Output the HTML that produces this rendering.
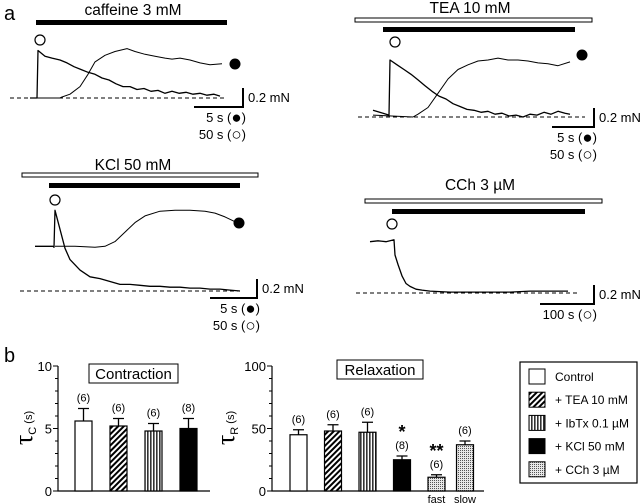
<!DOCTYPE html>
<html><head><meta charset="utf-8"><style>
body{margin:0;background:#fff}
svg{display:block;font-family:"Liberation Sans",sans-serif}
</style></head><body>
<svg id="fig" width="640" height="504" viewBox="0 0 640 504">
<defs>
<pattern id="diag" width="4" height="4" patternUnits="userSpaceOnUse" patternTransform="rotate(45)"><rect width="4" height="4" fill="#fff"/><rect width="2" height="4" fill="#000"/></pattern>
<pattern id="vert" width="3" height="3" patternUnits="userSpaceOnUse"><rect width="3" height="3" fill="#fff"/><rect width="1.6" height="3" fill="#333"/></pattern>
<pattern id="dots" width="2" height="2" patternUnits="userSpaceOnUse"><rect width="2" height="2" fill="#e8e8e8"/><rect width="1" height="1" fill="#555"/></pattern>
</defs>
<g id="panelA"></g>
<g id="panelB"></g>
</svg>
<script>
// ---- panel a trace data (time in s-scaled units, force in mN) ----
const cafSlowT=[0,7,8,15,22,30,37,44,51,58,65,72,79,86,93,100,107,114,121,128,135,142,149,156,163,170,177,184,190];
const cafSlowF=[0,0,0.5,0.44,0.42,0.4,0.37,0.33,0.3,0.27,0.25,0.21,0.19,0.15,0.12,0.12,0.09,0.1,0.07,0.08,0.05,0.07,0.05,0.06,0.04,0.05,0.03,0.04,0.02];
const cafFastT=[0,30,32,40,50,58,65,75,85,97,105,115,125,135,142,150,160,170,180,192];
const cafFastF=[0,0,0.01,0.04,0.12,0.25,0.38,0.45,0.49,0.52,0.49,0.46,0.44,0.42,0.41,0.42,0.4,0.37,0.35,0.36];
const teaSlowT=[0,10,16,17,24,31,38,45,52,59,66,73,80,87,94,101,108,115,122,129,136,143,150,157,164,171,178,185,192,197];
const teaSlowF=[0.07,0.04,0.02,0.6,0.55,0.5,0.45,0.39,0.33,0.27,0.22,0.19,0.14,0.11,0.08,0.07,0.05,0.06,0.03,0.04,0.01,0.02,0.0,0.03,0.02,0.05,0.03,0.06,0.04,0.03];
const teaFastT=[0,40,45,55,65,75,85,95,105,115,125,135,145,155,165,175,185,197];
const teaFastF=[0.02,0.0,0.03,0.1,0.25,0.4,0.5,0.55,0.59,0.6,0.62,0.6,0.6,0.59,0.57,0.56,0.54,0.58];
const kclSlowT=[0,18,19,20,25,30,35,45,55,65,75,85,95,105,115,125,135,145,155,165,175,185,195,205];
const kclSlowF=[0.47,0.47,0.46,0.85,0.65,0.45,0.33,0.22,0.15,0.13,0.1,0.07,0.07,0.06,0.05,0.05,0.04,0.04,0.03,0.03,0.02,0.02,0.01,0.0];
const kclFastT=[20,40,60,70,80,90,100,110,125,140,155,170,180,190,200,205];
const kclFastF=[0.47,0.47,0.46,0.47,0.52,0.62,0.72,0.79,0.84,0.85,0.85,0.84,0.82,0.78,0.73,0.72];
const cchT=[0,8,16,24,25,28,32,36,40,46,52,60,80,100,120,140,160,170,185,198];
const cchF=[0.54,0.55,0.54,0.56,0.4,0.3,0.18,0.1,0.07,0.04,0.03,0.02,0.01,0.01,0.01,0.01,0.02,0.02,0.02,0.02];
// ---- panel b bar data ----
const conCats=["Control","TEA","IbTx","KCl"];
const conVals=[5.6,5.2,4.8,5.0];
const conErr=[1.0,0.6,0.6,0.8];
const conN=["(6)","(6)","(6)","(8)"];
const relCats=["Control","TEA","IbTx","KCl","fast","slow"];
const relVals=[45,48,47,25,11,37];
const relErr=[4,5,8,3,2,3];
const relN=["(6)","(6)","(6)","(8)","(6)","(6)"];
const relStar=["","","","*","**",""];
const conTicks=[0,5,10];
const relTicks=[0,50,100];
const legendLabels=["Control","+ TEA 10 mM","+ IbTx 0.1 \u00b5M","+ KCl 50 mM","+ CCh 3 \u00b5M"];

const NS="http://www.w3.org/2000/svg";
function mk(parent,tag,attrs,text){const e=document.createElementNS(NS,tag);for(const k in attrs)e.setAttribute(k,attrs[k]);if(text!==undefined)e.textContent=text;parent.appendChild(e);return e;}
const A=document.getElementById('panelA');
const B=document.getElementById('panelB');

let el=mk(A,'text',{x:4,y:20,'font-size':20},'a');



function trace(g,x0,base,ts,fs,w,name){
  const sx=t=>x0+t, sy=f=>base-f*95;
  let d='';ts.forEach((t,i)=>{d+=(i?'L':'M')+sx(t).toFixed(1)+' '+sy(fs[i]).toFixed(1)});
  const p=mk(g,'path',{d:d,fill:'none',stroke:'#000','stroke-width':w,'stroke-linejoin':'round'});
  
  
}
function panel(cfg){
  const g=mk(A,'g',{});
  
  
  let t=mk(g,'text',{x:cfg.tx,y:cfg.ty,'font-size':15.5,'text-anchor':'middle'},cfg.title);
  
  
  if(cfg.white){let r=mk(g,'rect',{x:cfg.white[0],y:cfg.white[1],width:cfg.white[2]-cfg.white[0],height:4,fill:'#fff',stroke:'#000','stroke-width':1});
    }
  let b=mk(g,'rect',{x:cfg.black[0],y:cfg.black[1],width:cfg.black[2]-cfg.black[0],height:5,fill:'#000'});
  
  let c=mk(g,'circle',{cx:cfg.circ[0],cy:cfg.circ[1],r:5,fill:'#fff',stroke:'#000','stroke-width':1.2});
  
  if(cfg.dot){let d=mk(g,'circle',{cx:cfg.dot[0],cy:cfg.dot[1],r:5.5,fill:'#000'});
    }
  let bl=mk(g,'line',{x1:cfg.bl[0],x2:cfg.bl[1],y1:cfg.bl[2],y2:cfg.bl[2],stroke:'#000','stroke-dasharray':'4 3','stroke-width':1});
  
  cfg.traces.forEach(tr=>trace(g,tr[0],tr[1],tr[2],tr[3],tr[4],tr[5]));
  const s=cfg.sb;
  let sb=mk(g,'path',{d:`M${s[0]} ${s[2]}H${s[1]}V${s[2]-19}`,fill:'none',stroke:'#000','stroke-width':2});
  
  let lm=mk(g,'text',{x:s[1]+5,y:s[2]-5,'font-size':13},'0.2 mN');
  
  cfg.tl.forEach((l,i)=>{let tt=mk(g,'text',{x:s[1]+3,y:s[2]+15+i*17,'font-size':13,'text-anchor':'end'});
    
    mk(tt,'tspan',{},l[0]+' (');
    mk(tt,'tspan',{'font-size':17,dy:1},l[1]);
    mk(tt,'tspan',{dy:-1},')');
  });
}
panel({name:'caffeine-panel',title:'caffeine 3 mM',tx:133,ty:15,black:[36,20,227],circ:[40,40],dot:[235,64],bl:[10,225,98],
  traces:[[30,98,cafSlowT,cafSlowF,1.3,'trace-50s'],[30,98,cafFastT,cafFastF,1,'trace-5s']],sb:[194,243,107],tl:[['5 s','\u25cf'],['50 s','\u25cb']]});
panel({name:'tea-panel',title:'TEA 10 mM',tx:470,ty:13,white:[355,18,592],black:[383,27,575],circ:[395,42],dot:[582,55],bl:[358,585,117],
  traces:[[373,117,teaSlowT,teaSlowF,1.3,'trace-50s'],[373,117,teaFastT,teaFastF,1,'trace-5s']],sb:[552,594,127],tl:[['5 s','\u25cf'],['50 s','\u25cb']]});
panel({name:'kcl-panel',title:'KCl 50 mM',tx:133,ty:170,white:[22,173,258],black:[49,183,240],circ:[55,200],dot:[239,223],bl:[20,240,291],
  traces:[[35,291,kclSlowT,kclSlowF,1.3,'trace-50s'],[35,291,kclFastT,kclFastF,1,'trace-5s']],sb:[210,257,298],tl:[['5 s','\u25cf'],['50 s','\u25cb']]});
panel({name:'cch-panel',title:'CCh 3 \u00b5M',tx:480,ty:190,white:[365,199,602],black:[392,209,585],circ:[392,224],bl:[356,580,293],
  traces:[[370,293,cchT,cchF,1.3,'trace-100s']],sb:[540,594,304],tl:[['100 s','\u25cb']]});

// ---- panel b ----
el=mk(B,'text',{x:4,y:362,'font-size':20},'b');


const fills={Control:'#fff',TEA:'url(#diag)',IbTx:'url(#vert)',KCl:'#000',fast:'url(#dots)',slow:'url(#dots)'};
function barChart(o){
  const g=mk(B,'g',{});
  
  const y=v=>491-v/o.max*125;
  let ax=mk(g,'path',{d:`M${o.ax} 366V491H${o.xe}`,fill:'none',stroke:'#000','stroke-width':1.2});
  
  for(let i=0;i<=10;i++){const v=o.max*i/10;let tk=mk(g,'line',{x1:o.ax-(i%5?3:5),x2:o.ax,y1:y(v),y2:y(v),stroke:'#000'});
    }
  o.ticks.forEach(v=>{let tl=mk(g,'text',{x:o.ax-6,y:y(v)+5,'font-size':13,'text-anchor':'end'},v);
    });
  let yt=mk(g,'text',{transform:`translate(${o.ax-o.yo},428) rotate(-90)`,'font-size':12,'text-anchor':'middle'});
  
  mk(yt,'tspan',{'font-size':26,'font-family':'"Liberation Serif",serif'},'\u03c4');
  mk(yt,'tspan',{'font-size':11,dy:4},o.sub+' ');
  mk(yt,'tspan',{'font-size':11,dy:-4},'(s)');
  o.cats.forEach((c,i)=>{
    const x=o.x0+i*o.step+(o.extra&&i===5?-6:0), v=o.vals[i], e=o.err[i];
    let eb=mk(g,'path',{d:`M${x+8.5} ${y(v)}V${y(v+e)}M${x+3} ${y(v+e)}H${x+14}`,stroke:'#000','stroke-width':1.3,fill:'none'});
    
    let r=mk(g,'rect',{x:x,y:y(v),width:17,height:491-y(v),fill:fills[c],stroke:'#000','stroke-width':1.2});
    
    let n=mk(g,'text',{x:x+8.5,y:y(v+e)-7,'font-size':11,'text-anchor':'middle'},o.n[i]);
    
    if(o.star&&o.star[i]){let s=mk(g,'text',{x:x+8.5,y:y(v+e)-18,'font-size':18,'text-anchor':'middle','font-weight':'bold'},o.star[i]);
      }
    if(c==='fast'||c==='slow'){let fl=mk(g,'text',{x:x+8.5,y:503,'font-size':11,'text-anchor':'middle'},c);
      }
  });
  let bx=mk(g,'rect',{x:o.box[0],y:o.box[1],width:o.box[2],height:19,fill:'#fff',stroke:'#000'});
  
  let bt=mk(g,'text',{x:o.box[0]+o.box[2]/2,y:o.box[1]+15,'font-size':15,'text-anchor':'middle'},o.title);
  
}
barChart({name:'contraction-chart',title:'Contraction',sub:'C',box:[89,364,89],ax:58,xe:210,max:10,ticks:conTicks,cats:conCats,vals:conVals,err:conErr,n:conN,x0:75,step:35,yo:26});
barChart({name:'relaxation-chart',title:'Relaxation',sub:'R',box:[337,360,86],ax:272,xe:484,max:100,ticks:relTicks,cats:relCats,vals:relVals,err:relErr,n:relN,star:relStar,x0:290,step:34.5,extra:true,yo:38});

const lg=mk(B,'g',{});


mk(lg,'rect',{x:520,y:362,width:117,height:121,fill:'#fff',stroke:'#000','stroke-width':1.2});
const lf=['#fff','url(#diag)','url(#vert)','#000','url(#dots)'];
legendLabels.forEach((l,i)=>{
  const yy=376+i*23.2;
  let sw=mk(lg,'rect',{x:529,y:yy-7,width:16,height:15,fill:lf[i],stroke:'#000'});
  
  let tx=mk(lg,'text',{x:555,y:yy+5,'font-size':12},l);
  
});
</script>
</body></html>
